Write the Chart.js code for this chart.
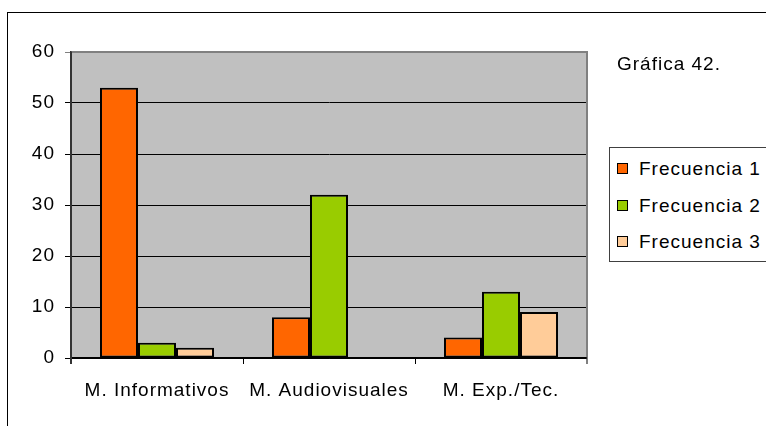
<!DOCTYPE html>
<html>
<head>
<meta charset="utf-8">
<script src="https://cdn.jsdelivr.net/npm/chart.js@4/dist/chart.umd.min.js"></script>
<style>
  html, body { margin: 0; padding: 0; background: #fff; overflow: hidden; }
  #wrap { position: relative; width: 766px; height: 426px; overflow: hidden; }
  #frame { position: absolute; left: 7px; top: 12px; width: 900px; height: 600px; border: 1px solid #000; box-sizing: border-box; }
  canvas { position: absolute; left: 0; top: 0; }
  .txt { position: absolute; font-family: "Liberation Sans", Arial, sans-serif; font-size: 19px; letter-spacing: 1px; line-height: 20px; color: #000; white-space: nowrap; }
  #legend { position: absolute; left: 609px; top: 147px; width: 200px; height: 115px; border: 1px solid #404040; box-sizing: border-box; background: #fff; }
  .sw { position: absolute; width: 11px; height: 11px; border: 1.5px solid #000; box-sizing: border-box; }
</style>
</head>
<body>
<div id="wrap">
  <div id="frame"></div>
  <canvas id="c" width="766" height="426"></canvas>
  <div class="txt" id="note" style="left:617px; top:54px;"></div>
  <div id="legendHolder"></div>
</div>
<script>
const categories = ["M. Informativos", "M. Audiovisuales", "M. Exp./Tec."];
const seriesNames = ["Frecuencia 1", "Frecuencia 2", "Frecuencia 3"];
const frecuencia1 = [53, 8, 4];
const frecuencia2 = [3, 32, 13];
const frecuencia3 = [2, 0, 9];
const seriesColors = ["#FF6600", "#99CC00", "#FFCC99"];
const yTicks = [0, 10, 20, 30, 40, 50, 60];
const noteText = "Gráfica 42.";

document.getElementById('note').textContent = noteText;

const FONT = { family: '"Liberation Sans", Arial, sans-serif', size: 19 };
const seriesValues = [frecuencia1, frecuencia2, frecuencia3];

const spacingPlugin = {
  id: 'spacing',
  beforeLayout(chart) { chart.ctx.letterSpacing = '1px'; },
  beforeDraw(chart) {
    chart.ctx.letterSpacing = '1px';
    const { ctx, chartArea: a } = chart;
    ctx.save();
    ctx.fillStyle = '#C0C0C0';
    ctx.fillRect(a.left, a.top, a.right - a.left, a.bottom - a.top);
    ctx.restore();
  },
  afterDraw(chart) {
    const { ctx, chartArea: a } = chart;
    ctx.save();
    ctx.strokeStyle = '#808080';
    ctx.lineWidth = 2;
    ctx.beginPath();
    ctx.moveTo(a.left, a.top);
    ctx.lineTo(a.right, a.top);
    ctx.lineTo(a.right, a.bottom + 6);
    ctx.stroke();
    ctx.strokeStyle = '#000';
    ctx.lineWidth = 1.5;
    ctx.beginPath();
    ctx.moveTo(a.left, a.bottom);
    ctx.lineTo(a.right, a.bottom);
    ctx.stroke();
    ctx.strokeStyle = '#333';
    ctx.lineWidth = 2;
    ctx.beginPath();
    ctx.moveTo(a.left, a.top - 0.5);
    ctx.lineTo(a.left, a.bottom + 6);
    ctx.stroke();
    ctx.restore();
  }
};

const chart = new Chart(document.getElementById('c'), {
  type: 'bar',
  data: {
    labels: categories,
    datasets: seriesNames.map((name, i) => ({
      label: name,
      data: seriesValues[i],
      backgroundColor: seriesColors[i],
      borderColor: '#000',
      borderWidth: 2,
      borderSkipped: false,
      categoryPercentage: 0.663,
      barPercentage: 1.0
    }))
  },
  options: {
    responsive: false,
    animation: false,
    devicePixelRatio: 1,
    layout: { padding: { top: 52, right: 179, left: 0, bottom: 0 } },
    plugins: { legend: { display: false }, tooltip: { enabled: false } },
    scales: {
      x: {
        offset: true,
        grid: { display: true, drawOnChartArea: false, drawTicks: true, tickLength: 6, color: '#000', lineWidth: 1, offset: true },
        border: { display: true, color: '#000', width: 1.5 },
        ticks: { color: '#000', font: FONT, padding: 15, maxRotation: 0, autoSkip: false },
        afterFit(s) { s.height = 68; }
      },
      y: {
        min: 0, max: 60,
        afterBuildTicks(s) { s.ticks = yTicks.map(v => ({ value: v })); },
        grid: {
          color: (c) => (c.tick && c.tick.value === 60 ? '#808080' : '#000'),
          lineWidth: 1, tickLength: 6, drawTicks: true
        },
        border: { display: true, color: '#333', width: 2 },
        ticks: { color: '#000', font: FONT, padding: 10 },
        afterFit(s) { s.width = 71; }
      }
    }
  },
  plugins: [spacingPlugin]
});

// legend built from the series arrays
const holder = document.getElementById('legendHolder');
const box = document.createElement('div');
box.id = 'legend';
holder.appendChild(box);
const rowTops = [11, 48, 84];
seriesNames.forEach((name, i) => {
  const sw = document.createElement('div');
  sw.className = 'sw';
  sw.style.left = '7px';
  sw.style.top = (rowTops[i] + 4) + 'px';
  sw.style.background = seriesColors[i];
  box.appendChild(sw);
  const t = document.createElement('div');
  t.className = 'txt';
  t.style.left = '29px';
  t.style.top = rowTops[i] + 'px';
  t.textContent = name;
  box.appendChild(t);
});
</script>
</body>
</html>
